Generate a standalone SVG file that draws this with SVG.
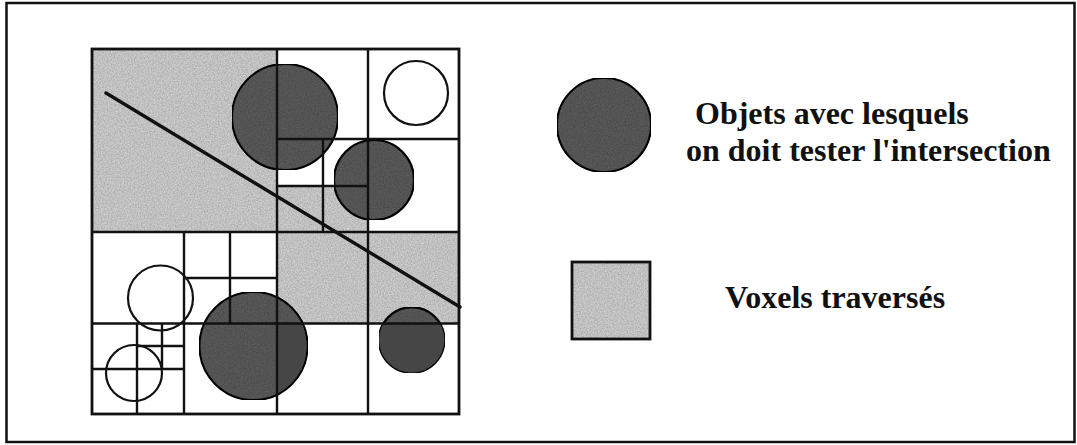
<svg xmlns="http://www.w3.org/2000/svg" width="1077" height="445" viewBox="0 0 1077 445">
  <defs>
    <filter id="grain" x="0" y="0" width="100%" height="100%">
      <feTurbulence type="fractalNoise" baseFrequency="0.7" numOctaves="2" seed="3" result="noise"/>
      <feColorMatrix in="noise" type="matrix" values="0 0 0 0 0  0 0 0 0 0  0 0 0 0 0  0 0 0 0.6 -0.15" result="dark"/>
      <feComposite in="dark" in2="SourceGraphic" operator="in" result="speck"/>
      <feMerge><feMergeNode in="SourceGraphic"/><feMergeNode in="speck"/></feMerge>
    </filter>
    <clipPath id="clipA"><rect x="277" y="323.5" width="91" height="91"/></clipPath>
    <clipPath id="clipB"><rect x="368" y="323.5" width="91" height="91"/></clipPath>
  </defs>
  <style>
    .frame { fill: none; stroke: #111; stroke-width: 2.5; }
    .shade { fill: #cfcfcf; }
    .dark { fill: #5c5c5c; stroke: #111; stroke-width: 2.2; }
    .solid { fill: #464646; }
    .white { fill: none; stroke: #111; stroke-width: 2.2; }
    .grid line { stroke: #111; stroke-width: 2.4; }
    .ray { stroke: #111; stroke-width: 3.4; stroke-linecap: round; }
    .label { font-family: "Liberation Serif", "Times New Roman", serif; font-weight: bold; font-size: 32px; fill: #111; }
  </style>
  <rect fill="#fff" x="0" y="0" width="1077" height="445"/>
  <rect id="frame" class="frame" x="6.5" y="3" width="1068" height="439"/>

  <g id="voxels-traverses">
    <rect class="shade" filter="url(#grain)" x="92" y="49" width="185" height="183"/>
    <rect class="shade" filter="url(#grain)" x="277" y="186" width="91" height="46"/>
    <rect class="shade" filter="url(#grain)" x="277" y="232" width="182" height="91.5"/>
  </g>

  <g id="objets">
    <circle id="obj1" class="dark" filter="url(#grain)" cx="285" cy="117" r="53"/>
    <circle id="obj2" class="white" cx="416" cy="93" r="32"/>
    <circle id="obj3" class="dark" filter="url(#grain)" cx="374" cy="180" r="40"/>
    <circle id="obj4" class="white" cx="160.5" cy="298" r="32.5"/>
    <circle id="obj5" class="white" cx="134" cy="373" r="28"/>
    <g id="obj6">
      <circle class="dark" filter="url(#grain)" cx="253.5" cy="346" r="54"/>
      <circle class="solid" clip-path="url(#clipA)" cx="253.5" cy="346" r="53"/>
    </g>
    <g id="obj7">
      <circle class="dark" filter="url(#grain)" cx="411.7" cy="340" r="32.7"/>
      <circle class="solid" clip-path="url(#clipB)" cx="411.7" cy="340" r="32.7"/>
    </g>
  </g>

  <g id="grille" class="grid">
    <rect x="92" y="49" width="367" height="365" fill="none" stroke="#111" stroke-width="2.8"/>
    <line x1="277" y1="49" x2="277" y2="414"/>
    <line x1="92" y1="232" x2="459" y2="232"/>
    <line x1="368" y1="49" x2="368" y2="414"/>
    <line x1="277" y1="139" x2="459" y2="139"/>
    <line x1="92" y1="323.5" x2="459" y2="323.5"/>
    <line x1="184" y1="232" x2="184" y2="414"/>
    <line x1="323" y1="139" x2="323" y2="232"/>
    <line x1="277" y1="186" x2="368" y2="186"/>
    <line x1="230" y1="232" x2="230" y2="323.5"/>
    <line x1="184" y1="278" x2="277" y2="278"/>
    <line x1="137" y1="323.5" x2="137" y2="414"/>
    <line x1="92" y1="369" x2="184" y2="369"/>
    <line x1="162" y1="323.5" x2="162" y2="369"/>
    <line x1="137" y1="346" x2="184" y2="346"/>
  </g>

  <g id="connecteurs">
    <line id="rayon" class="ray" x1="106" y1="93" x2="460" y2="307"/>
  </g>

  <g id="legende-objets">
    <circle class="dark" filter="url(#grain)" cx="604" cy="125" r="47"/>
    <text class="label" x="695" y="124">Objets avec lesquels</text>
    <text class="label" x="686" y="161">on doit tester l'intersection</text>
  </g>

  <g id="legende-voxels">
    <rect class="shade" filter="url(#grain)" x="572" y="262" width="78" height="77"/>
    <rect x="572" y="262" width="78" height="77" fill="none" stroke="#111" stroke-width="2.8"/>
    <text class="label" x="725" y="308">Voxels traversés</text>
  </g>
</svg>
